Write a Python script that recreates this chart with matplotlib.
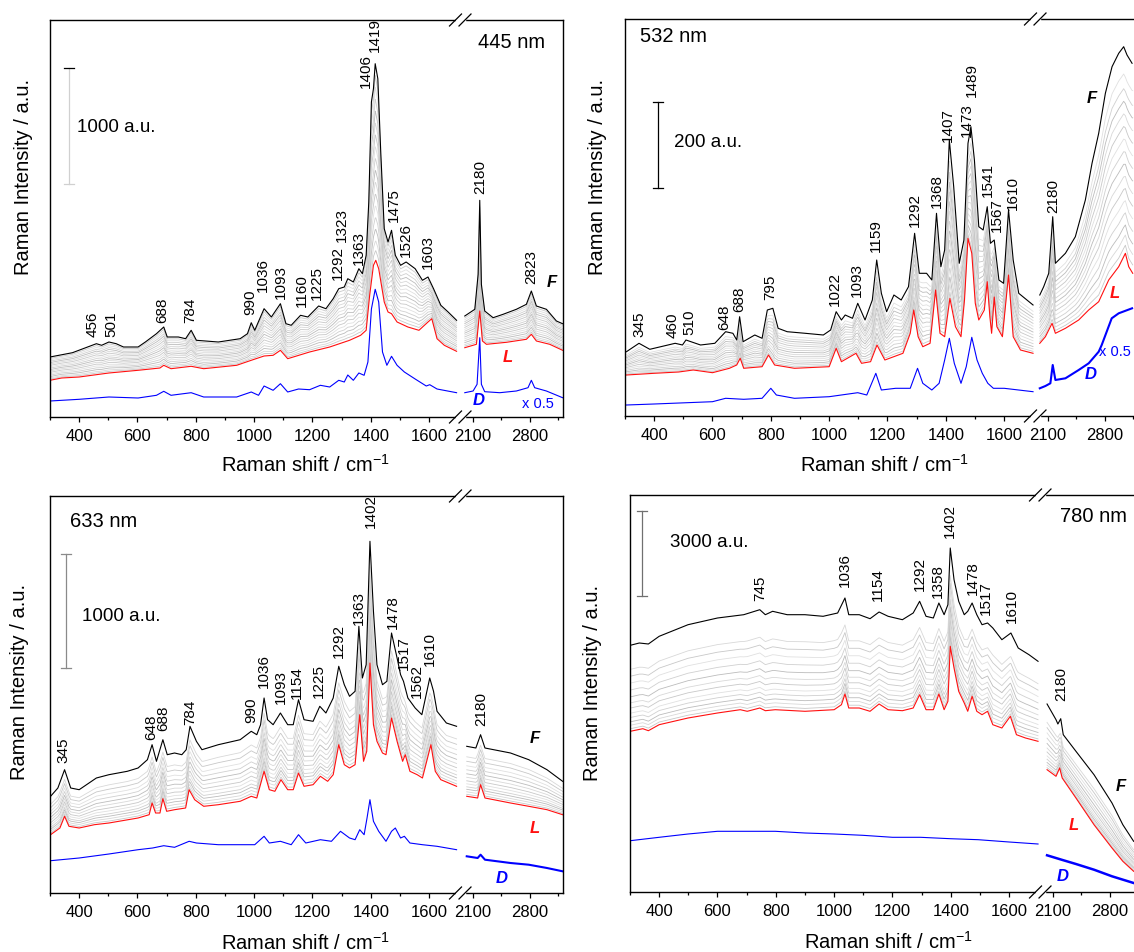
import numpy as np
import matplotlib.pyplot as plt
from matplotlib.lines import Line2D
from matplotlib.patches import Rectangle

plt.rcParams['font.family'] = ['Liberation Sans', 'DejaVu Sans']
plt.rcParams['mathtext.fontset'] = 'custom'
plt.rcParams['mathtext.rm'] = 'Liberation Sans'
plt.rcParams['mathtext.default'] = 'regular'

# ---------------- digitised spectra ----------------
# x: Raman shift / cm-1, y: intensity in plot units (converted to a.u. per panel)

# 445 nm
X_D445 = [300, 400, 502, 602, 665, 690, 715, 784, 827, 940, 990, 1015, 1034, 1065, 1090, 1115, 1152, 1190,
          1227, 1259, 1290, 1309, 1321, 1340, 1359, 1377, 1390, 1402, 1415, 1427, 1440, 1455, 1471, 1490,
          1515, 1552, 1590, 1602, 1627, 1694,
          2003, 2105, 2154, 2187, 2207, 2248, 2433, 2637, 2780, 2821, 2862, 3006, 3205]
Y_D445 = [16, 17.7, 20, 19, 21.7, 25.7, 21.7, 24.3, 20, 20, 25, 21.7, 31, 26.7, 33.3, 25, 28, 27.3,
          31.7, 30, 36.7, 35, 42, 36.7, 44, 41.7, 55, 108, 127.7, 115, 65, 51.7, 60.7, 51.7,
          45, 38, 31, 32.3, 28, 24.3,
          24.3, 26, 32.7, 79.3, 32.7, 25.3, 24.3, 26, 29.3, 36.7, 29.3, 26, 19.3]
X_L445 = [300, 340, 400, 502, 602, 677, 690, 715, 784, 827, 940, 990, 1034, 1065, 1090, 1115, 1190, 1259,
          1327, 1365, 1384, 1396, 1409, 1417, 1427, 1446, 1459, 1471, 1490, 1527, 1565, 1596, 1609, 1627,
          1652, 1694,
          2003, 2146, 2187, 2220, 2269, 2515, 2760, 2821, 2883, 3047, 3205]
Y_L445 = [36.7, 39, 40, 44, 46.7, 49, 51.7, 48.3, 50.7, 48.3, 51.7, 56.7, 61, 61.7, 66.7, 58.3, 65, 70,
          76.7, 81.7, 86.7, 121.7, 151.7, 156.7, 148.3, 115, 105, 103.3, 95, 90, 86.7, 95, 98.3, 78.3,
          71.7, 65.7,
          69.3, 72.7, 106, 76, 72.7, 74.7, 77.7, 82.7, 76, 72.7, 66.7]
X_F445 = [300, 377, 459, 477, 502, 527, 552, 602, 627, 665, 690, 702, 740, 765, 784, 802, 877, 952, 977, 990,
          1002, 1034, 1059, 1090, 1109, 1127, 1159, 1184, 1221, 1246, 1271, 1290, 1309, 1321, 1340, 1359,
          1371, 1384, 1393, 1402, 1409, 1415, 1424, 1434, 1446, 1459, 1471, 1484, 1502, 1521, 1552, 1577,
          1596, 1615, 1640, 1665, 1694,
          2003, 2126, 2167, 2187, 2207, 2248, 2351, 2474, 2637, 2760, 2821, 2883, 3006, 3129, 3205]
Y_F445 = [60, 64.3, 73.3, 71.7, 75, 73.3, 70, 70, 75, 83.3, 90, 80, 80, 78.3, 86.7, 76.7, 75, 78.3, 83.3, 94.3,
          86.7, 108.3, 100, 113.3, 93.3, 91.7, 101.7, 100, 111, 108.3, 118.3, 128.3, 130, 138.3, 135, 148.3,
          143.3, 161.7, 215, 315, 328.3, 353.3, 338.3, 265, 188.3, 175, 186.7, 161.7, 151.7, 155, 148.3, 136.7,
          140, 128.3, 111.7, 105, 96.7,
          101, 107.7, 142.7, 216.7, 132.7, 106, 99.3, 102.7, 107.7, 112.7, 126, 111, 107.7, 96, 93.3]
GRAY445 = [0.05, 0.1, 0.16, 0.22, 0.28, 0.34, 0.4, 0.46, 0.52, 0.58, 0.64, 0.7, 0.76, 0.82, 0.88, 0.94]
PEAKS445 = [456, 501, 688, 784, 990, 1036, 1093, 1160, 1225, 1292, 1323, 1363, 1406, 1419, 1475, 1526, 1603,
            2180, 2823]
PEAKPOS445 = [(446, 80), (509, 80), (686, 94), (780, 94), (985, 101.7), (1030, 125), (1090, 118.3),
              (1162, 110), (1215, 116.7), (1287, 136.7), (1302, 175), (1359, 151.7), (1384, 329),
              (1415, 365), (1480, 195), (1521, 160), (1596, 148.3), (2190, 222.7), (2821, 132.7)]

# 532 nm
X_D532 = [305, 400, 600, 645, 707, 770, 800, 819, 881, 1000, 1098, 1129, 1160, 1179, 1228, 1278, 1303, 1321,
          1352, 1377, 1396, 1412, 1429, 1452, 1470, 1489, 1507, 1525, 1544, 1563, 1600, 1699,
          2003, 2072, 2133, 2162, 2195, 2318, 2481, 2604, 2727, 2764, 2887, 2973, 3137]
Y_D532 = [11, 12, 14.3, 17.7, 16.7, 17.7, 27.7, 21, 17.7, 19.3, 23.3, 21, 42.7, 26, 27.7, 27.7, 47.7, 32.7,
          26, 32.7, 56, 77.7, 52.7, 32.7, 49.3, 78.7, 56, 42.7, 32.7, 27.7, 27.7, 24.3,
          27.7, 30, 32.7, 51, 36, 37.7, 46, 52.7, 64.3, 71, 97.7, 102.7, 107.7]
X_L532 = [305, 400, 484, 534, 600, 658, 683, 695, 707, 770, 792, 813, 881, 1000, 1024, 1042, 1092, 1111, 1142,
          1164, 1191, 1253, 1278, 1290, 1305, 1321, 1346, 1365, 1380, 1396, 1414, 1433, 1452, 1464, 1476, 1489,
          1501, 1513, 1532, 1542, 1551, 1557, 1566, 1575, 1594, 1615, 1631, 1656, 1699,
          2003, 2072, 2154, 2195, 2318, 2481, 2604, 2727, 2850, 2973, 3055, 3096, 3145]
Y_L532 = [41, 42.7, 44, 46, 43.3, 47.7, 51, 57.7, 47.7, 49.3, 61, 51, 47.7, 49.3, 67.7, 54.3, 62.7, 52.7, 54.3,
          71, 56, 62.7, 82.7, 106, 79.3, 69.3, 72.7, 126, 82.7, 79.3, 117.7, 89.3, 79.3, 116, 177.7, 162.7,
          112.7, 96, 106, 134.3, 99.3, 82.7, 119, 89.3, 79.3, 141, 79.3, 66, 62.7,
          72.7, 79.3, 92.7, 82.7, 87.7, 96, 106, 114.3, 136, 149.3, 162.7, 149.3, 142.7]
X_F532 = [305, 348, 385, 472, 497, 509, 559, 608, 645, 670, 683, 693, 705, 745, 770, 788, 807, 825, 856, 918,
          980, 1005, 1024, 1042, 1055, 1080, 1098, 1123, 1148, 1163, 1179, 1197, 1222, 1247, 1272, 1293, 1309,
          1334, 1352, 1368, 1383, 1396, 1412, 1427, 1446, 1462, 1476, 1486, 1498, 1513, 1528, 1542, 1553, 1566,
          1582, 1598, 1615, 1631, 1650, 1699,
          2003, 2051, 2113, 2162, 2195, 2318, 2440, 2563, 2645, 2727, 2809, 2891, 2973, 3034, 3075, 3137]
Y_F532 = [64.3, 72.7, 66.7, 72.7, 71, 76, 71, 72.7, 84.3, 82.7, 76, 99.3, 74.3, 81, 77.7, 106, 107.7, 87.7, 84.3,
          82.7, 81, 86, 104.3, 96, 101, 97.7, 112.7, 96, 116, 156, 122.7, 104.3, 121, 116, 129.3, 182.7, 142.7,
          142.7, 136, 202.7, 149.3, 166, 276, 229.3, 152.7, 176, 272.7, 289.3, 256, 189.3, 186, 209.3, 172.7, 176,
          136, 132.7, 206, 156, 122.7, 111,
          121, 129.3, 142.7, 199.3, 152.7, 162.7, 179.3, 216, 252.7, 282.7, 322.7, 349.3, 362.7, 369.3, 361, 352.7]
GRAY532 = [0.04, 0.09, 0.14, 0.2, 0.26, 0.32, 0.38, 0.44, 0.5, 0.56, 0.62, 0.68, 0.74, 0.8, 0.87]
PEAKS532 = [345, 460, 510, 648, 688, 795, 1022, 1093, 1159, 1292, 1368, 1407, 1473, 1489, 1541, 1567, 1610, 2180]
PEAKPOS532 = [(348, 79.3), (463, 77.7), (522, 81), (639, 86), (691, 104.3), (798, 116), (1021, 110),
              (1094, 119.3), (1160, 164.3), (1293, 189.3), (1368, 207.7), (1408, 274.3), (1473, 279.3),
              (1489, 319.3), (1544, 219.3), (1576, 184.3), (1631, 206), (2170, 202.7)]

# 633 nm
X_D633 = [302, 400, 502, 602, 652, 690, 727, 777, 802, 877, 1002, 1034, 1052, 1090, 1127, 1152, 1177, 1227,
          1265, 1296, 1327, 1346, 1362, 1377, 1387, 1397, 1409, 1427, 1452, 1471, 1484, 1502, 1515, 1534,
          1577, 1627, 1694,
          2027, 2161, 2197, 2251, 2565, 2789, 3013, 3205]
Y_D633 = [32.3, 35, 39, 43.3, 45, 47.3, 45.7, 51.7, 50, 48.3, 48.3, 56.7, 50, 51.7, 48.3, 58.3, 50, 53.3,
          51.7, 61.7, 55, 53.3, 63.3, 58.3, 75, 93.3, 71.7, 61.7, 51.7, 61.7, 65, 55, 56.7, 50,
          48.3, 46.7, 43.3,
          36.7, 35, 38.3, 33.3, 30, 28.3, 25, 21.7]
X_L633 = [302, 334, 350, 365, 400, 452, 502, 602, 640, 650, 662, 677, 687, 700, 727, 765, 777, 796, 827, 877,
          952, 990, 1009, 1034, 1052, 1071, 1092, 1115, 1134, 1152, 1171, 1202, 1227, 1252, 1271, 1290, 1309,
          1327, 1346, 1362, 1375, 1386, 1397, 1409, 1421, 1440, 1452, 1471, 1490, 1509, 1518, 1534, 1559,
          1577, 1606, 1621, 1640, 1694,
          2027, 2161, 2197, 2251, 2565, 2789, 3013, 3205]
Y_L633 = [58.3, 65, 76.7, 66.7, 65, 68.3, 70, 75, 78.3, 90, 80, 80, 94.3, 81.7, 83.3, 85, 103.3, 93.3, 86.7, 88.3,
          91.7, 96.7, 95, 121.7, 103.3, 101.7, 113.3, 103.3, 103.3, 120, 106.7, 108.3, 116.7, 111.7, 118.3,
          148.3, 128.3, 125, 128.3, 178.3, 131.7, 141.7, 230, 168.3, 151.7, 140, 138.3, 175, 151.7, 131.7,
          138.3, 121.7, 118.3, 115, 148.3, 121.7, 113.3, 106.7,
          96.7, 95, 108.3, 95, 90, 86.7, 83.3, 78.3]
X_F633 = [302, 327, 350, 371, 400, 459, 502, 565, 602, 634, 650, 665, 687, 702, 727, 752, 767, 780, 802, 821,
          877, 952, 990, 1009, 1022, 1034, 1046, 1065, 1090, 1115, 1134, 1152, 1171, 1202, 1225, 1246, 1271,
          1290, 1309, 1327, 1346, 1359, 1371, 1384, 1397, 1409, 1421, 1440, 1455, 1471, 1490, 1502, 1512,
          1527, 1552, 1575, 1602, 1615, 1627, 1659, 1694,
          2027, 2139, 2197, 2251, 2565, 2789, 3013, 3205]
Y_F633 = [96.7, 105, 123.3, 105, 103.3, 115, 118.3, 121.7, 125, 133.3, 148.3, 131.7, 153.3, 138.3, 140, 138.3,
          143.3, 166.7, 151.7, 143.3, 148.3, 153.3, 161.7, 158.3, 168.3, 195, 173.3, 168.3, 180, 168.3, 168.3,
          193.3, 173.3, 171.7, 186.7, 180, 195, 226.7, 208.3, 196.7, 201.7, 266.7, 215, 228.3, 351.7, 281.7,
          228.3, 208.3, 211.7, 260, 235, 218.3, 211.7, 195, 185, 178.3, 215, 201.7, 181.7, 170, 166.7,
          146.7, 145, 158.3, 145, 140, 133.3, 123.3, 111.7]
GRAY633 = [0.04, 0.09, 0.14, 0.19, 0.25, 0.31, 0.38, 0.45, 0.53, 0.61, 0.7, 0.79]
PEAKS633 = [345, 648, 688, 784, 990, 1036, 1093, 1154, 1225, 1292, 1363, 1402, 1478, 1517, 1562, 1610, 2180]
PEAKPOS633 = [(346, 130), (646, 153.3), (687, 162.3), (780, 168.3), (990, 170), (1034, 205), (1090, 189.3),
              (1146, 194.3), (1221, 195), (1290, 235), (1359, 268.3), (1400, 365), (1475, 264.3),
              (1515, 223.3), (1559, 195), (1602, 226.7), (2206, 166.7)]

# 780 nm
X_D780 = [301, 400, 499, 600, 702, 798, 900, 1000, 1098, 1200, 1296, 1398, 1494, 1600, 1699,
          2031, 2209, 2386, 2608, 2829, 3095]
Y_D780 = [51.3, 54.7, 58, 60.7, 60.7, 60.7, 59, 58, 56.7, 54.7, 54.7, 53.3, 52.3, 50, 48,
          36.7, 32.3, 28, 22.3, 15.7, 9]
X_L780 = [301, 344, 363, 400, 499, 600, 678, 702, 745, 764, 798, 900, 1000, 1025, 1037, 1050, 1086, 1123, 1154,
          1185, 1234, 1271, 1293, 1315, 1340, 1359, 1377, 1390, 1398, 1411, 1427, 1446, 1458, 1473, 1489,
          1507, 1526, 1544, 1575, 1604, 1625, 1656, 1699,
          2031, 2141, 2186, 2217, 2386, 2608, 2829, 2962, 3095]
Y_L780 = [160.7, 163.3, 161.3, 167.3, 174, 179, 182.3, 180.7, 184, 181.3, 182.3, 180.7, 182.3, 187.3, 198, 184,
          184, 180.7, 188, 182.3, 181.3, 184, 197.3, 182.3, 182.3, 198, 182.3, 190.7, 245.7, 224, 200.7, 189,
          180.7, 195.7, 180.7, 177.3, 180.7, 167.3, 164, 175.7, 157.3, 154, 150.7,
          122.3, 115.7, 124, 114, 94, 67.3, 44, 30.7, 20.7]
X_F780 = [301, 332, 363, 400, 499, 600, 690, 745, 764, 789, 839, 900, 962, 1012, 1037, 1050, 1086, 1123, 1154,
          1185, 1234, 1271, 1293, 1315, 1340, 1359, 1377, 1390, 1398, 1411, 1427, 1446, 1458, 1473, 1489,
          1507, 1526, 1544, 1575, 1606, 1631, 1668, 1699,
          2031, 2141, 2164, 2199, 2230, 2386, 2608, 2829, 2962, 3095]
Y_F780 = [246.7, 249, 248, 255.7, 267.3, 274, 277.3, 282.3, 277.3, 280.7, 277.3, 277.3, 275.7, 279, 294, 277.3,
          277.3, 273.3, 280, 275.7, 272.3, 279, 290.7, 275.7, 274, 289, 277.3, 287.3, 344, 312.3, 290.7, 277.3,
          280.7, 289, 277.3, 267.3, 269, 264, 252.3, 259, 244, 237.3, 230.7,
          188, 172.3, 168, 173.3, 157.3, 140.7, 117.3, 89, 67.3, 50.7]
GRAY780 = [0.03, 0.07, 0.11, 0.16, 0.21, 0.27, 0.33, 0.4, 0.48, 0.56, 0.64, 0.72]
PEAKS780 = [745, 1036, 1154, 1292, 1358, 1402, 1478, 1517, 1610, 2180]
PEAKPOS780 = [(745, 290.7), (1037, 304.7), (1151, 290.7), (1293, 300.7), (1356, 294), (1398, 354),
              (1476, 297.3), (1519, 277.3), (1610, 269), (2209, 190.7)]

# ---------------- broken x axis ----------------
GAP = 21.3      # width of the break, in left-segment units
RATIO = 0.279   # compression of the 2000-3200 segment


def fwd(x):
    x = np.asarray(x, dtype=float)
    return np.where(x <= 1700, x,
                    np.where(x <= 2000, 1700 + (x - 1700) * GAP / 300,
                             1700 + GAP + (x - 2000) * RATIO))


def inv(u):
    u = np.asarray(u, dtype=float)
    return np.where(u <= 1700, u,
                    np.where(u <= 1700 + GAP, 1700 + (u - 1700) * 300 / GAP,
                             2000 + (u - 1700 - GAP) / RATIO))


W, H = 1134, 952
AX_W, AX_H = 513, 397
fig = plt.figure(figsize=(W / 100, H / 100), dpi=100)


def fx(px):
    return px / W


def fy(py):
    return 1 - py / H


def ftext(px, py, s, **kw):
    fig.text(fx(px), fy(py), s, ha=kw.pop('ha', 'center'), va=kw.pop('va', 'center'), **kw)


def split(x, y):
    x = np.asarray(x, float)
    y = np.asarray(y, float)
    m = x < 1850
    return [(x[m], y[m]), (x[~m], y[~m])]


GRAY_SHADES = ['#c8c8c8', '#d8d8d8', '#bcbcbc', '#d0d0d0', '#e0e0e0']


def draw_panel(left, top, au, D, L, F, weights, peaks, peak_pos, d_lw_right):
    ax = fig.add_axes([fx(left), fy(top + AX_H), AX_W / W, AX_H / H])
    ax.set_xscale('function', functions=(fwd, inv))
    ax.set_xlim(300, 3210)
    ax.set_ylim(0, AX_H * au)

    # intermediate spectra between L and F
    for (xl, yl), (xf, yf) in zip(split(*L), split(*F)):
        xs = np.union1d(xl, xf)
        yl_i = np.interp(xs, xl, yl)
        yf_i = np.interp(xs, xf, yf)
        for i, w in enumerate(weights):
            ax.plot(xs, (yl_i + w * (yf_i - yl_i)) * au,
                    color=GRAY_SHADES[i % len(GRAY_SHADES)], lw=0.6)

    for data, color in [(F, 'black'), (L, '#ff1010'), (D, '#0000ff')]:
        for k, (x, y) in enumerate(split(*data)):
            lw = d_lw_right if (color == '#0000ff' and k == 1) else 0.8
            ax.plot(x, y * au, color=color, lw=lw)

    for p, (xp, hp) in zip(peaks, peak_pos):
        ax.text(xp, hp * au, str(p), rotation=90, ha='center', va='bottom', fontsize=11)

    ax.set_xticks([400, 600, 800, 1000, 1200, 1400, 1600, 2100, 2800])
    ax.set_xticklabels(['400', '600', '800', '1000', '1200', '1400', '1600', '2100', '2800'])
    ax.set_xticks([300, 500, 700, 900, 1100, 1300, 1500, 2450, 3150], minor=True)
    ax.tick_params(axis='x', which='major', direction='out', length=3.8, width=0.9,
                   labelsize=12, pad=4.5)
    ax.tick_params(axis='x', which='minor', direction='out', length=2.3, width=0.9)
    ax.tick_params(axis='y', left=False, labelleft=False)
    for s in ax.spines.values():
        s.set_linewidth(1.0)

    # break marks on top and bottom spines
    for yb in (top, top + AX_H):
        fig.add_artist(Rectangle((fx(left + 405.5), fy(yb + 2.5)), 9.5 / W, 5 / H,
                                 transform=fig.transFigure, color='white', zorder=5))
        for cx in (left + 405.5, left + 415):
            fig.add_artist(Line2D([fx(cx - 6), fx(cx + 6)], [fy(yb + 6), fy(yb - 6)],
                                  transform=fig.transFigure, color='black', lw=0.9, zorder=6))
    return ax


def scale_bar(ax, left, px, y0, y1, color, cap_color):
    tr = ax.get_yaxis_transform()
    xb = (px - left) / AX_W
    cap = 5 / AX_W
    ax.plot([xb, xb], [y0, y1], transform=tr, color=color, lw=0.9)
    ax.plot([xb - cap, xb + cap], [y1, y1], transform=tr, color=cap_color, lw=0.9)
    ax.plot([xb - cap, xb + cap], [y0, y0], transform=tr, color=color, lw=0.9)


XLABEL = 'Raman shift / cm$^{-1}$'
YLABEL = 'Raman Intensity / a.u.'
FLD = dict(fontsize=12, fontweight='bold', fontstyle='italic')

# ---- 445 nm ----
au1 = 1000 / 116.3
ax1 = draw_panel(50, 20, au1, (X_D445, Y_D445), (X_L445, Y_L445), (X_F445, Y_F445),
                 GRAY445, PEAKS445, PEAKPOS445, 0.8)
scale_bar(ax1, 50, 69.3, 2000, 3000, '#d0d0d0', 'black')
ftext(77, 127, '1000 a.u.', fontsize=13.5, ha='left')
ftext(512, 42, '445 nm', fontsize=14.5)
ftext(551.7, 282.7, 'F', color='black', **FLD)
ftext(508, 358, 'L', color='#ff1010', **FLD)
ftext(479, 400, 'D', color='#0000ff', **FLD)
ftext(538, 404, 'x 0.5', color='#0000ff', fontsize=10.5)
ftext(23.6, 177, YLABEL, fontsize=14.5, rotation=90)
ftext(305.5, 465, XLABEL, fontsize=14.5)

# ---- 532 nm ----
au2 = 200 / 86
ax2 = draw_panel(625, 19, au2, (X_D532, Y_D532), (X_L532, Y_L532), (X_F532, Y_F532),
                 GRAY532, PEAKS532, PEAKPOS532, 1.5)
scale_bar(ax2, 625, 658.2, 530, 730, 'black', 'black')
ftext(674.5, 142.7, '200 a.u.', fontsize=13.5, ha='left')
ftext(674, 37, '532 nm', fontsize=14.5)
ftext(1091.7, 98.3, 'F', color='black', **FLD)
ftext(1115, 293.3, 'L', color='#ff1010', **FLD)
ftext(1115, 351.7, 'x 0.5', color='#0000ff', fontsize=10.5)
ftext(1090.7, 375, 'D', color='#0000ff', **FLD)
ftext(597.3, 177, YLABEL, fontsize=14.5, rotation=90)
ftext(884.5, 465, XLABEL, fontsize=14.5)

# ---- 633 nm ----
au3 = 1000 / 113.3
ax3 = draw_panel(50, 496, au3, (X_D633, Y_D633), (X_L633, Y_L633), (X_F633, Y_F633),
                 GRAY633, PEAKS633, PEAKPOS633, 1.5)
scale_bar(ax3, 50, 66.4, 1990, 2990, '#8a8a8a', '#8a8a8a')
ftext(81.6, 616.7, '1000 a.u.', fontsize=13.5, ha='left')
ftext(103.5, 521.7, '633 nm', fontsize=14.5)
ftext(534.4, 738.3, 'F', color='black', **FLD)
ftext(535, 828.3, 'L', color='#ff1010', **FLD)
ftext(501.6, 878.3, 'D', color='#0000ff', **FLD)
ftext(20, 681.7, YLABEL, fontsize=14.5, rotation=90)
ftext(305.5, 943, XLABEL, fontsize=14.5)

# ---- 780 nm ----
au4 = 3000 / 85.3
ax4 = draw_panel(630, 495, au4, (X_D780, Y_D780), (X_L780, Y_L780), (X_F780, Y_F780),
                 GRAY780, PEAKS780, PEAKPOS780, 1.8)
scale_bar(ax4, 630, 641.9, 10400, 13400, '#707070', '#707070')
ftext(669.7, 542.7, '3000 a.u.', fontsize=13.5, ha='left')
ftext(1094, 517, '780 nm', fontsize=14.5)
ftext(1121, 786.7, 'F', color='black', **FLD)
ftext(1074, 825, 'L', color='#ff1010', **FLD)
ftext(1063, 876.7, 'D', color='#0000ff', **FLD)
ftext(592.5, 682.5, YLABEL, fontsize=14.5, rotation=90)
ftext(888, 942, XLABEL, fontsize=14.5)

fig.savefig('out.png', dpi=100)
